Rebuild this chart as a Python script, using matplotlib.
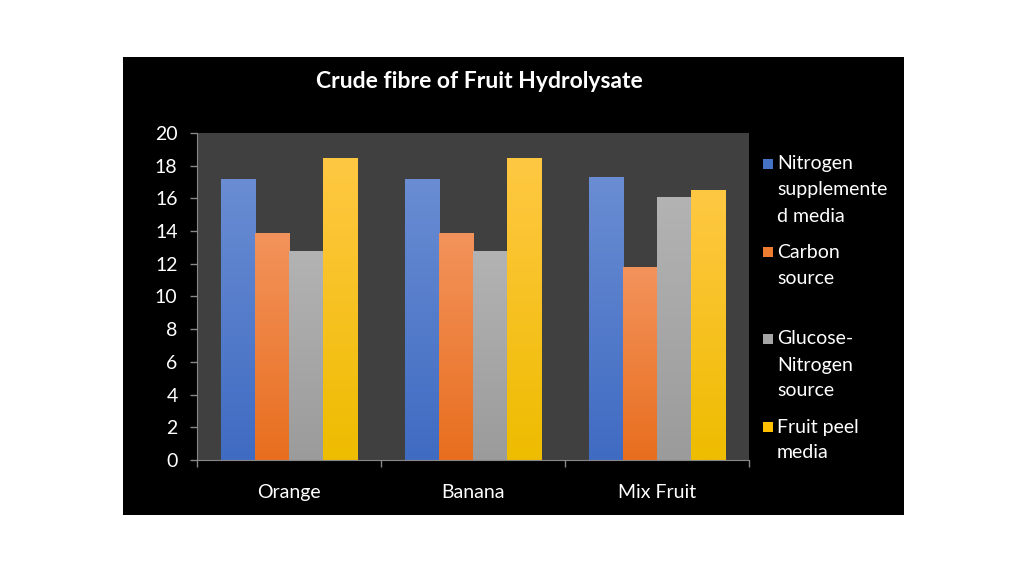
import matplotlib
matplotlib.use("Agg")
import matplotlib.pyplot as plt
import numpy as np
from matplotlib.patches import Rectangle
from matplotlib.colors import LinearSegmentedColormap

categories = ["Orange", "Banana", "Mix Fruit"]
series_names = ["Nitrogen\nsupplemente\nd media", "Carbon\nsource", "Glucose-\nNitrogen\nsource", "Fruit peel\nmedia"]
nitrogen = [17.2, 17.2, 17.3]
carbon = [13.9, 13.9, 11.8]
glucose_nitrogen = [12.8, 12.8, 16.1]
fruit_peel = [18.5, 18.5, 16.5]
values = [nitrogen, carbon, glucose_nitrogen, fruit_peel]
yticks = list(range(0, 21, 2))

top_colors = ["#6a8dd3", "#f3935c", "#b3b3b3", "#ffc843"]
bot_colors = ["#3f6bc2", "#e86e1e", "#9b9b9b", "#eebc00"]
legend_colors = ["#4472c4", "#ed7d31", "#a5a5a5", "#ffc000"]

plt.rcParams['font.family'] = ['Lato', 'DejaVu Sans']

fig = plt.figure(figsize=(10.24, 5.76), dpi=100)
fig.patch.set_facecolor("white")
fig.patches.append(Rectangle((123/1024, (576-515)/576), 781/1024, 458/576,
                             transform=fig.transFigure, facecolor="black",
                             edgecolor="none", zorder=0))

ax = fig.add_axes([197/1024, (576-460)/576, 552/1024, 327/576])
ax.set_facecolor("#404040")
ax.set_zorder(1)

n = len(values)
width = 0.185
x = np.arange(len(categories))
grad = np.linspace(1, 0, 256).reshape(-1, 1)
for i, vals in enumerate(values):
    offs = x + (i - (n - 1) / 2) * width
    bars = ax.bar(offs, vals, width=width, facecolor="none", edgecolor="none", zorder=2)
    cmap = LinearSegmentedColormap.from_list("g%d" % i, [bot_colors[i], top_colors[i]])
    for b in bars:
        bx, by = b.get_x(), b.get_y()
        bw, bh = b.get_width(), b.get_height()
        im = ax.imshow(grad, cmap=cmap, extent=[bx, bx + bw, by, by + bh],
                       aspect="auto", zorder=2, interpolation="bilinear", origin="upper")
        im.set_clip_path(b)

ax.set_xlim(-0.5, len(categories) - 0.5)
ax.set_ylim(0, 20)
ax.set_yticks(yticks)
ax.set_yticklabels([str(t) for t in yticks])
ax.set_xticks(np.arange(len(categories) + 1) - 0.5)
ax.set_xticklabels([])
ax.set_xticks(x, minor=True)
ax.set_xticklabels(categories, minor=True)
ax.tick_params(axis="x", which="minor", length=0, pad=17, labelsize=14, labelcolor="white")
ax.tick_params(axis="x", which="major", length=5, color="#888888", width=1)
ax.tick_params(axis="y", length=5, color="#888888", width=1, pad=9, labelsize=14, labelcolor="white")
for s in ["top", "right"]:
    ax.spines[s].set_visible(False)
ax.spines["left"].set_color("#888888")
ax.spines["bottom"].set_color("#888888")

fig.text(479/1024, 1 - 82/576, "Crude fibre of Fruit Hydrolysate", ha="center", va="center",
         color="white", fontsize=16.5, fontweight="bold")

entry_y = [164, 252, 339, 427]
for i, name in enumerate(series_names):
    yc = entry_y[i]
    fig.patches.append(Rectangle((763/1024, 1 - (yc + 5)/576), 10/1024, 10/576,
                                 transform=fig.transFigure, facecolor=legend_colors[i],
                                 edgecolor="none", zorder=3))
    for j, ln in enumerate(name.split("\n")):
        fig.text(777/1024, 1 - (yc + 26*j)/576, ln, ha="left", va="center", color="white",
                 fontsize=14, zorder=3)

fig.savefig("out.png", dpi=100, facecolor=fig.get_facecolor())
